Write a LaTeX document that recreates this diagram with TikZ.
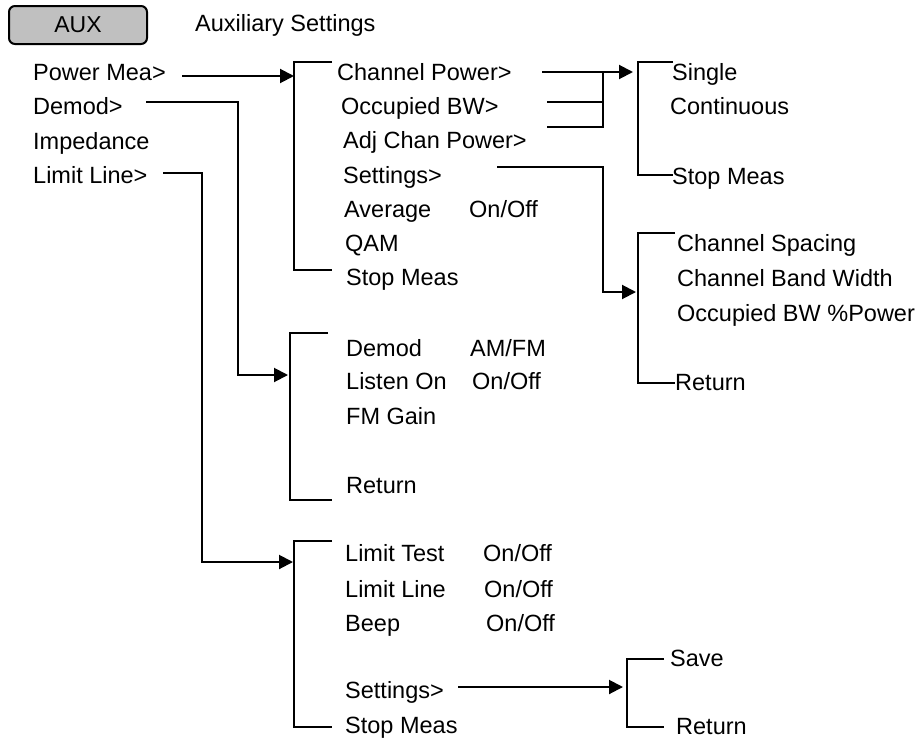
\documentclass[tikz,border=0pt]{standalone}
\usepackage{fontspec}
\setmainfont{Liberation Sans}
\usetikzlibrary{arrows.meta}
\definecolor{auxgray}{HTML}{C0C0C0}
\begin{document}
\begin{tikzpicture}[x=1pt,y=-1pt,
  txt/.style={anchor=base west,inner sep=0pt,font=\fontsize{23.5}{28}\selectfont},
  ln/.style={line width=2pt},
  arr/.style={line width=2pt,-{Triangle[length=14pt,width=14pt]}}]
\useasboundingbox (0,0) rectangle (921,739);

% header
\node[draw,line width=2pt,fill=auxgray,rounded corners=6pt,minimum width=138pt,minimum height=38pt,inner sep=0pt,font=\fontsize{23}{28}\selectfont] (aux) at (78,25) {AUX};
\node[txt] (title) at (195,31) {Auxiliary Settings};

% column 1
\node[txt] (pm) at (33,80) {Power Mea>};
\node[txt] (dm) at (33,114.5) {Demod>};
\node[txt] (imp) at (33,149) {Impedance};
\node[txt] (ll) at (33,183.5) {Limit Line>};

% Power Mea submenu
\node[txt] (cp) at (337,80.5) {Channel Power>};
\node[txt] (ob) at (341,114.7) {Occupied BW>};
\node[txt] (acp) at (343,148.9) {Adj Chan Power>};
\node[txt] (set1) at (343,183.1) {Settings>};
\node[txt] (avg) at (344,217.3) {Average};
\node[txt] (avgv) at (469,217.3) {On/Off};
\node[txt] (qam) at (345,251.5) {QAM};
\node[txt] (sm1) at (346,285.7) {Stop Meas};

% Channel Power submenu
\node[txt] (single) at (672,80.5) {Single};
\node[txt] (cont) at (670,114.5) {Continuous};
\node[txt] (sm2) at (672,184.5) {Stop Meas};

% Settings submenu
\node[txt] (cs) at (677,251.5) {Channel Spacing};
\node[txt] (cbw) at (677,286.5) {Channel Band Width};
\node[txt] (obp) at (677,321.5) {Occupied BW \%Power};
\node[txt] (ret1) at (675,390.5) {Return};

% Demod submenu
\node[txt] (dmd) at (346,356) {Demod};
\node[txt] (dmdv) at (470,356) {AM/FM};
\node[txt] (lis) at (346,389.5) {Listen On};
\node[txt] (lisv) at (472,389.5) {On/Off};
\node[txt] (fmg) at (346,424) {FM Gain};
\node[txt] (ret2) at (346,493.5) {Return};

% Limit Line submenu
\node[txt] (lt) at (345,561.5) {Limit Test};
\node[txt] (ltv) at (483,561.5) {On/Off};
\node[txt] (lln) at (345,597.5) {Limit Line};
\node[txt] (llnv) at (484,597.5) {On/Off};
\node[txt] (bp) at (345,631.5) {Beep};
\node[txt] (bpv) at (486,631.5) {On/Off};
\node[txt] (set2) at (345,698.5) {Settings>};
\node[txt] (sm3) at (345,733) {Stop Meas};

% Settings (limit) submenu
\node[txt] (save) at (670,666.5) {Save};
\node[txt] (ret3) at (676,734) {Return};

% connector coordinates
\coordinate (pmS) at (182,76);
\coordinate (b2in) at (294,76);
\coordinate (cpS) at (542,72);
\coordinate (b3in) at (633,72);
\coordinate (obS) at (547,102);
\coordinate (acpS) at (547,127);
\coordinate (j1) at (603,102);
\coordinate (j2) at (603,127);
\coordinate (j0) at (603,72);
\coordinate (setS) at (497,167);
\coordinate (setIn) at (636,292);
\coordinate (dmS) at (146,102);
\coordinate (dmIn) at (288,375);
\coordinate (llS) at (163,173);
\coordinate (llIn) at (293,562);
\coordinate (set2S) at (458,687);
\coordinate (set2In) at (623,687);

% brackets
\draw[ln] (332,62) -- (294,62) -- (294,270) -- (332,270);
\draw[ln] (673,62) -- (638,62) -- (638,175) -- (673,175);
\draw[ln] (675,233) -- (638,233) -- (638,383) -- (675,383);
\draw[ln] (328,333) -- (290,333) -- (290,500) -- (332,500);
\draw[ln] (332,541) -- (294,541) -- (294,727) -- (332,727);
\draw[ln] (664,659) -- (627,659) -- (627,727) -- (664,727);

% connectors
\draw[arr] (pmS) -- (b2in);
\draw[arr] (cpS) -- (b3in);
\draw[ln] (obS) -- (j1);
\draw[ln] (acpS) -- (j2) -- (j0);
\draw[arr] (setS) -| (603,292) -- (setIn);
\draw[arr] (dmS) -| (238,375) -- (dmIn);
\draw[arr] (llS) -| (202,562) -- (llIn);
\draw[arr] (set2S) -- (set2In);
\end{tikzpicture}
\end{document}
